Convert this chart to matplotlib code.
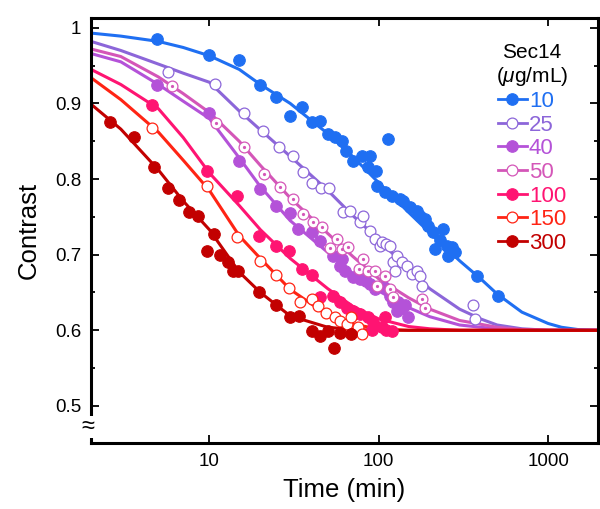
import matplotlib
matplotlib.use('Agg')
import matplotlib.pyplot as plt
from matplotlib.lines import Line2D
from matplotlib.ticker import MultipleLocator, FixedLocator, NullLocator
import matplotlib.transforms as mtransforms

plt.rcParams['font.family'] = ['Liberation Sans', 'DejaVu Sans']
plt.rcParams['mathtext.fontset'] = 'custom'
plt.rcParams['mathtext.rm'] = 'Liberation Sans'
plt.rcParams['mathtext.it'] = 'Liberation Sans:italic'

# concentrations (ug/mL), colours, marker style
labels = ['10', '25', '40', '50', '100', '150', '300']
colors = ['#1f6ff2', '#8c66d9', '#b452d8', '#d456b8', '#ff1472', '#ff2414', '#c20000']
styles = ['filled', 'open', 'filled', 'dot', 'filled', 'open', 'filled']

# measured points (time in min, contrast)
t10 = [4.9, 10, 15, 20, 24.8, 30, 35.3, 40.6, 45, 50, 55.4, 61, 64, 70, 80, 89, 86, 96, 114,
       98, 109, 120, 134, 139, 153, 168, 176, 188, 196, 210, 240, 231, 216, 253, 270, 280, 258,
       381, 508]
c10 = [0.985, 0.964, 0.958, 0.925, 0.909, 0.884, 0.895, 0.875, 0.877, 0.860, 0.856, 0.850, 0.837,
       0.824, 0.830, 0.830, 0.816, 0.811, 0.853, 0.791, 0.783, 0.778, 0.774, 0.771, 0.763, 0.758,
       0.751, 0.747, 0.738, 0.730, 0.734, 0.720, 0.707, 0.711, 0.710, 0.703, 0.698, 0.672, 0.646]

t25 = [5.7, 10.8, 15.9, 20.8, 25.8, 31, 35.8, 40.6, 45.7, 51, 61.8, 68, 78, 81, 89, 95, 102, 105,
       111, 116, 122, 128, 137, 146, 125, 157, 168, 176, 181, 360, 370]
c25 = [0.942, 0.926, 0.887, 0.864, 0.842, 0.830, 0.809, 0.795, 0.788, 0.788, 0.756, 0.758, 0.743,
       0.751, 0.731, 0.721, 0.711, 0.717, 0.714, 0.711, 0.690, 0.698, 0.690, 0.685, 0.678, 0.674,
       0.678, 0.672, 0.658, 0.633, 0.615]

t40 = [4.9, 10, 15, 20, 24.8, 30, 33.5, 40.6, 45, 53.6, 59, 61, 63.5, 70, 78, 84, 89, 95, 107,
       116, 122, 130, 137, 142, 128, 148]
c40 = [0.925, 0.887, 0.824, 0.787, 0.764, 0.755, 0.734, 0.730, 0.718, 0.698, 0.685, 0.694, 0.678,
       0.670, 0.668, 0.665, 0.661, 0.654, 0.657, 0.645, 0.638, 0.637, 0.630, 0.634, 0.625, 0.617]

t50 = [6, 11, 16, 21, 26.2, 31, 35.8, 41, 46, 51.7, 57, 61, 66, 76, 81, 86, 95, 98, 109, 116,
       122, 181, 188]
c50 = [0.923, 0.874, 0.842, 0.807, 0.789, 0.773, 0.754, 0.743, 0.736, 0.709, 0.721, 0.707, 0.710,
       0.681, 0.694, 0.678, 0.678, 0.658, 0.672, 0.654, 0.644, 0.641, 0.630]

t100 = [4.6, 9.7, 14.6, 19.5, 24.8, 29.6, 35, 40.6, 45, 53.6, 59, 65, 70, 78, 86, 91, 93, 105,
        109, 111, 120]
c100 = [0.898, 0.811, 0.777, 0.725, 0.711, 0.705, 0.681, 0.673, 0.644, 0.645, 0.638, 0.630, 0.625,
        0.621, 0.617, 0.601, 0.611, 0.604, 0.617, 0.601, 0.599]

t150 = [4.6, 9.7, 14.6, 20, 24.8, 29.6, 34.4, 40.6, 44, 49, 55.4, 59, 65, 69, 75, 80]
c150 = [0.868, 0.791, 0.723, 0.692, 0.673, 0.656, 0.638, 0.641, 0.632, 0.623, 0.617, 0.612, 0.608,
        0.617, 0.604, 0.595]

t300 = [2.6, 3.6, 4.7, 5.7, 6.6, 7.6, 8.6, 9.7, 10.7, 11.6, 12.8, 13.7, 14.8, 19.5, 24.8, 30,
        33.9, 40.6, 45, 50, 54.6, 59, 69]
c300 = [0.875, 0.855, 0.816, 0.788, 0.772, 0.757, 0.751, 0.705, 0.728, 0.699, 0.690, 0.678, 0.678,
        0.650, 0.634, 0.617, 0.619, 0.599, 0.592, 0.599, 0.577, 0.597, 0.595]

# fitted curves
fit_t = [2, 3, 5, 7, 10, 15, 20, 30, 50, 70, 100, 150, 200, 300, 400, 500, 700, 1000, 1200,
         1500, 2000]
fit10 = [0.993, 0.989, 0.982, 0.974, 0.963, 0.945, 0.925, 0.900, 0.860, 0.830, 0.795, 0.756,
         0.729, 0.692, 0.668, 0.648, 0.624, 0.609, 0.604, 0.601, 0.600]
fit25 = [0.982, 0.970, 0.952, 0.940, 0.928, 0.890, 0.865, 0.830, 0.785, 0.752, 0.720, 0.680,
         0.655, 0.628, 0.615, 0.607, 0.602, 0.600, 0.600, 0.600, 0.600]
fit40 = [0.966, 0.955, 0.925, 0.903, 0.880, 0.828, 0.790, 0.745, 0.703, 0.675, 0.652, 0.630,
         0.618, 0.607, 0.604, 0.602, 0.600, 0.600, 0.600, 0.600, 0.600]
fit50 = [0.972, 0.962, 0.935, 0.913, 0.888, 0.850, 0.818, 0.775, 0.728, 0.698, 0.668, 0.643,
         0.628, 0.613, 0.608, 0.604, 0.601, 0.600, 0.600, 0.600, 0.600]
fit100 = [0.945, 0.925, 0.893, 0.855, 0.808, 0.765, 0.733, 0.695, 0.655, 0.632, 0.615, 0.605,
          0.602, 0.600, 0.600, 0.600, 0.600, 0.600, 0.600, 0.600, 0.600]
fit150 = [0.934, 0.905, 0.862, 0.825, 0.785, 0.725, 0.695, 0.654, 0.620, 0.608, 0.602, 0.600,
          0.600, 0.600, 0.600, 0.600, 0.600, 0.600, 0.600, 0.600, 0.600]
fit300 = [0.899, 0.866, 0.812, 0.771, 0.733, 0.677, 0.650, 0.619, 0.604, 0.601, 0.600, 0.600,
          0.600, 0.600, 0.600, 0.600, 0.600, 0.600, 0.600, 0.600, 0.600]

times = [t10, t25, t40, t50, t100, t150, t300]
values = [c10, c25, c40, c50, c100, c150, c300]
fits = [fit10, fit25, fit40, fit50, fit100, fit150, fit300]


def marker_kw(style, color):
    if style == 'filled':
        return dict(marker='o', markersize=8.3, markerfacecolor=color, markeredgecolor=color,
                    markeredgewidth=0.8)
    return dict(marker='o', markersize=7.8, markerfacecolor='white', markeredgecolor=color,
                markeredgewidth=0.9)


def main():
    fig = plt.figure(figsize=(6, 5.09), dpi=100)
    ax = fig.add_axes([0.1517, 0.1297, 0.845, 0.835])

    handles = []
    for t, c, f, col, st in zip(times, values, fits, colors, styles):
        ax.plot(fit_t, f, color=col, lw=2.2, zorder=2)
        ax.plot(t, c, linestyle='none', zorder=3, **marker_kw(st, col))
        if st == 'dot':
            ax.plot(t, c, linestyle='none', marker='o', markersize=1.3, color=col, zorder=4)
        handles.append(Line2D([], [], color=col, lw=2, **marker_kw(st, col)))

    ax.set_xscale('log')
    ax.set_xlim(2.0, 1970)
    ax.set_ylim(0.451, 1.013)
    ax.xaxis.set_major_locator(FixedLocator([10, 100, 1000]))
    ax.xaxis.set_minor_locator(NullLocator())
    ax.set_xticklabels(['10', '100', '1000'])
    ax.set_yticks([0.5, 0.6, 0.7, 0.8, 0.9, 1.0])
    ax.set_yticklabels(['0.5', '0.6', '0.7', '0.8', '0.9', '1'])
    ax.yaxis.set_minor_locator(MultipleLocator(0.05))
    ax.tick_params(which='both', direction='in', top=True, right=True, width=1.3,
                   labelsize=13.5, pad=7)
    ax.tick_params(which='major', length=6)
    ax.tick_params(which='minor', length=3)
    for s in ax.spines.values():
        s.set_linewidth(2.2)

    ax.set_xlabel('Time (min)', fontsize=18.5, labelpad=6)
    ax.set_ylabel('Contrast', fontsize=18.5, labelpad=10)

    # axis break mark
    trans = mtransforms.blended_transform_factory(ax.transAxes, ax.transData)
    ax.text(-0.006, 0.472, '\u2248', transform=trans, ha='center', va='center', fontsize=17,
            bbox=dict(facecolor='white', edgecolor='none', pad=0.0), clip_on=False, zorder=10)

    leg = ax.legend(handles, labels, loc='upper right', bbox_to_anchor=(0.972, 0.978),
                    title='Sec14\n($\\mu$g/mL)', fontsize=16, title_fontsize=15,
                    frameon=False, handlelength=1.3, handletextpad=0.1, labelspacing=0.12,
                    borderaxespad=0.3, labelcolor='linecolor')
    leg.get_title().set_multialignment('center')

    fig.savefig('out.png', dpi=100)


if __name__ == '__main__':
    main()
